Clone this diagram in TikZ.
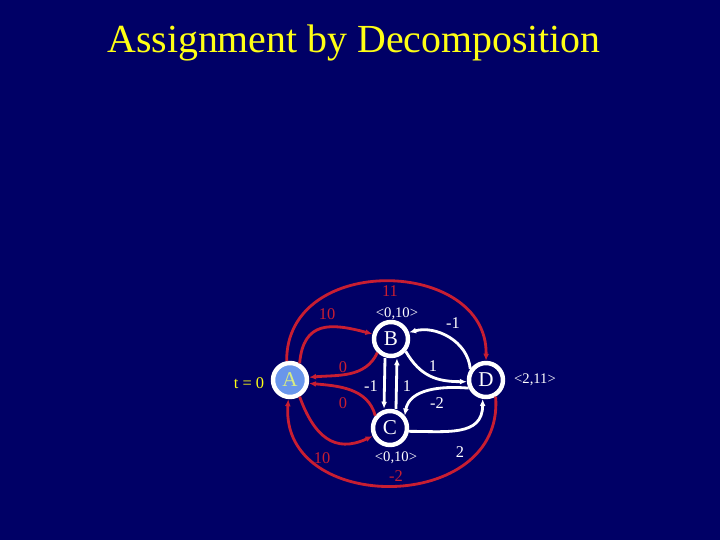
\documentclass[tikz,border=0pt]{standalone}
\usepackage{fontspec}
\setmainfont{Liberation Serif}
\usetikzlibrary{arrows.meta,positioning}
\definecolor{navy}{RGB}{0,0,102}
\definecolor{wred}{RGB}{200,30,50}
\definecolor{titleyellow}{RGB}{255,255,20}
\definecolor{lightblue}{RGB}{105,150,235}
\definecolor{pale}{RGB}{215,235,130}

\begin{document}
\begin{tikzpicture}[% pixel grid of the slide, y runs down
			x=0.03cm,y=-0.03cm,
			every node/.style={inner sep=0pt},
			vertex/.style={circle,draw=white,line width=3.8pt,fill=navy,
				minimum size=1.02cm,text=white,font=\fontsize{18}{18}\selectfont},
			redlbl/.style={text=wred,font=\fontsize{14}{14}\selectfont},
			whitelbl/.style={text=white,font=\fontsize{14}{14}\selectfont},
			tuple/.style={text=white,font=\fontsize{12.5}{12.5}\selectfont},
			redarc/.style={draw=wred,line width=2.4pt},
			whitearc/.style={draw=white,line width=2.4pt},
			>={Latex[length=6pt,width=5pt]}
		]
		\fill[navy] (0,0) rectangle (720,540);
		\node[text=titleyellow,font=\fontsize{34}{36}\selectfont,anchor=base] (title) at (354,53) {Assignment by Decomposition};

		% the four vertices
		\node[vertex,fill=lightblue,text=pale] (A) at (290,380) {A};
		\node[vertex] (B) at (391,339) {B};
		\node[vertex] (C) at (390,428) {C};
		\node[vertex] (D) at (486,380) {D};

		\node[text=titleyellow,font=\fontsize{14}{14}\selectfont] (t0) at (249,383) {t = 0};
		\node[tuple] (tB) at (397,314) {<0,10>};
		\node[tuple] (tC) at (396,458) {<0,10>};
		\node[tuple] (tD) at (535,380) {<2,11>};

		% red arcs
		\path[->]
		(A.60) edge [redarc,out=85,in=165,looseness=1.4] (B.165)
		(B.225) edge [redarc,out=245,in=5] (A.8)
		(C.140) edge [redarc,out=105,in=-5] (A.-10)
		(A.-60) edge [redarc,out=-70,in=205,looseness=1.3] (C.205)
		;
		\draw[redarc,->] (A.100) .. controls (286,252) and (488,258) .. (D.90);
		\draw[redarc,->] (D.-60) .. controls (505,515) and (280,515) .. (A.-95);

		% white arcs
		\path[->]
		([xshift=-0.18cm]B.south) edge [whitearc] ([xshift=-0.18cm]C.north)
		([xshift=0.18cm]C.north) edge [whitearc] ([xshift=0.18cm]B.south)
		(B.-40) edge [whitearc,out=-60,in=180,looseness=1.1] (D.185)
		(D.145) edge [whitearc,out=95,in=15] (B.20)
		(D.205) edge [whitearc,out=175,in=80] (C.40)
		(C.-10) edge [whitearc,out=0,in=-90,looseness=1.2] (D.-100)
		;

		% weights
		\node[redlbl] (w11) at (390,291) {11};
		\node[redlbl] (wAB) at (327,314) {10};
		\node[redlbl] (wBA) at (343,367) {0};
		\node[redlbl] (wCA) at (343,403) {0};
		\node[redlbl] (wAC) at (322,458) {10};
		\node[redlbl] (wDA) at (396,476) {-2};
		\node[whitelbl] (wBC) at (371,386) {-1};
		\node[whitelbl] (wCB) at (407,386) {1};
		\node[whitelbl] (wDB) at (453,323) {-1};
		\node[whitelbl] (wBD) at (433,366) {1};
		\node[whitelbl] (wDC) at (437,403) {-2};
		\node[whitelbl] (wCD) at (460,452) {2};
	\end{tikzpicture}
\end{document}
